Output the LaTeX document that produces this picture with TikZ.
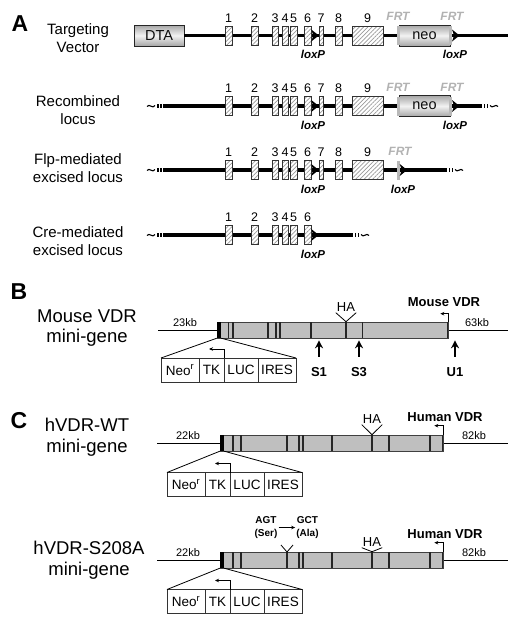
\documentclass[tikz,border=0pt]{standalone}
\usepackage{fontspec}
\setmainfont{Liberation Sans}
\usepackage{tikz}
\usetikzlibrary{positioning, arrows.meta, patterns.meta, calc}

\begin{document}
\begin{tikzpicture}[
    x=1pt, y=-1pt,
    panel/.style={font=\fontsize{23}{23}\selectfont\bfseries},
    rowlabel/.style={align=center, font=\fontsize{15}{18.5}\selectfont},
    genelabel/.style={align=center, font=\fontsize{18.5}{20.5}\selectfont},
    num/.style={font=\fontsize{12.5}{12.5}\selectfont},
    frt/.style={font=\fontsize{12}{12}\selectfont\bfseries\itshape, text=gray!60},
    lox/.style={font=\fontsize{11.5}{11.5}\selectfont\bfseries\itshape},
    exon/.style={
        rectangle, draw=gray!40!black, line width=0.6pt,
        preaction={fill=white},
        pattern={Lines[angle=45, distance=3pt, line width=0.7pt]},
        pattern color=gray!80,
        minimum height=19pt, inner sep=0pt
    },
    cassette/.style={
        rectangle, draw=gray!30!black, line width=0.7pt,
        top color=gray!70, bottom color=gray!70, middle color=gray!10,
        minimum height=21pt, inner sep=0pt, text=gray!10!black,
        font=\fontsize{14.5}{14.5}\selectfont
    },
    frtbar/.style={rectangle, fill=gray!55, minimum width=3pt, minimum height=19pt, inner sep=0pt},
    dna/.style={line width=3.5pt},
    thinline/.style={line width=0.8pt},
    gene/.style={rectangle, draw=black!75, fill=gray!50, line width=0.6pt, minimum height=16pt, inner sep=0pt},
    block/.style={rectangle, fill=black, minimum width=4pt, minimum height=16pt, inner sep=0pt},
    bar/.style={line width=1.6pt, black!85},
    kb/.style={font=\fontsize{11}{11}\selectfont},
    ha/.style={font=\fontsize{13}{13}\selectfont, inner sep=1pt},
    vdr/.style={font=\fontsize{13}{13}\selectfont\bfseries},
    site/.style={font=\fontsize{13}{13}\selectfont\bfseries},
    cell/.style={rectangle, draw=black!80, line width=0.6pt, minimum height=24pt,
        inner sep=0pt, outer sep=0pt, font=\fontsize{13.5}{13.5}\selectfont},
    mut/.style={align=center, inner sep=1pt, font=\fontsize{10}{12.5}\selectfont\bfseries},
    tss/.style={-{Stealth[length=4pt, width=3.5pt]}, line width=0.7pt},
    uparrow/.style={-{Stealth[length=8pt, width=8pt]}, line width=1.8pt, shorten >=2pt, shorten <=7pt},
    brk/.pic={
        \draw[line width=1.1pt] (-16,0.5) .. controls (-13.5,-3) and (-10.5,3.5) .. (-8,-0.5);
        \fill (-6,-2.2) rectangle (-4.5,2.2);
        \fill (-3,-2.2) rectangle (-1.5,2.2);
    }
]
\useasboundingbox (0,0) rectangle (518,624);

% A: targeting vector and loci
\node[panel] (lblA) at (20,23.5) {A};
\node[rowlabel] (tvL) at (78,38) {Targeting\\Vector};
\node[rowlabel] (rlL) at (78,110) {Recombined\\locus};
\node[rowlabel] (feL) at (78,168) {Flp-mediated\\excised locus};
\node[rowlabel] (ceL) at (78,241) {Cre-mediated\\excised locus};

\node[cassette, minimum width=50pt] (dta) at (159,35.5) {DTA};
\coordinate (tv-E) at (508,35.5);
\draw[dna] (dta.east) -- (tv-E);
\foreach \row/\yy/\xe in {rl/106/482, fe/170/447, ce/235/353} {
    \coordinate (\row-W) at (163,\yy);
    \coordinate (\row-E) at (\xe,\yy);
    \draw[dna] (\row-W) -- (\row-E);
    \pic at (\row-W) {brk};
    \pic[xscale=-1] at (\row-E) {brk};
}

% exons 1-9, loxP after exon 6
\foreach \row/\yy/\nmax in {tv/35.5/9, rl/106/9, fe/170/9, ce/235/6} {
    \foreach \n/\x/\w in {1/228.5/7, 2/254.5/7, 3/275/6, 4/285/6, 5/293.5/7,
                          6/307.5/7, 7/321/4, 8/338.5/7, 9/367.5/31} {
        \ifnum\n>\nmax\relax\else
            \node[exon, minimum width=\w pt, label={[num]above:\n}] (\row-\n) at (\x,\yy) {};
        \fi
    }
    \fill (\row-6.east) ++(0,-6) -- ++(7.5,6) -- ++(-7.5,6) -- ++(2,-6) -- cycle;
    \node[lox] (\row-lx) at (313,\yy+19) {loxP};
}

% neo flanked by FRT, second loxP
\foreach \row/\yy in {tv/35.5, rl/106} {
    \node[cassette, minimum width=51pt] (\row-neo) at (424.5,\yy) {neo};
    \node[frtbar] (\row-f1) at (\row-neo.west) {};
    \node[frtbar] (\row-f2) at (\row-neo.east) {};
    \fill (\row-f2.east) ++(0,-6) -- ++(7.5,6) -- ++(-7.5,6) -- ++(2,-6) -- cycle;
    \node[frt] (\row-ft1) at (398,\yy-19) {FRT};
    \node[frt] (\row-ft2) at (452,\yy-19) {FRT};
    \node[lox] (\row-lx2) at (455,\yy+19) {loxP};
}
\node[frtbar] (fe-f1) at (398,170) {};
\fill (fe-f1.east) ++(0,-6) -- ++(7.5,6) -- ++(-7.5,6) -- ++(2,-6) -- cycle;
\node[frt] (fe-ft1) at (400,151) {FRT};
\node[lox] (fe-lx2) at (403,189) {loxP};

% B: mouse VDR mini-gene
\node[panel] (lblB) at (19,291.5) {B};
\node[genelabel] (mgB) at (87,328) {Mouse VDR\\mini-gene};
\coordinate (B-W) at (158,330);
\coordinate (B-E) at (508,330);
\draw[thinline] (B-W) -- (B-E);
\node[gene, minimum width=231pt] (geneB) at (332.5,330) {};
\node[block] (blkB) at (219,330) {};
\foreach \x in {228.3, 232.7, 267.7, 276, 280, 311, 345.7, 362.3, 447.5}
    \draw[bar] (\x,322) -- (\x,338);
\node[kb] (kbB1) at (185,323) {23kb};
\node[kb] (kbB2) at (477,323) {63kb};
\node[ha] (haB) at (346,307) {HA};
\draw[thinline] (haB.south west) -- (haB.south |- geneB.north) -- (haB.south east);
\draw[tss] (geneB.north east) -- ++(0,-8) -- ++(-8,0);
\node[vdr] (vdrB) at (444,302) {Mouse VDR};
\foreach \s/\x in {S1/319, S3/359, U1/455} {
    \node[site] (\s) at (\x,372) {\s};
    \draw[uparrow] (\s.north) -- (\s.north |- geneB.south);
}
\node[cell, minimum width=38pt] (neoB) at (180,370) {Neo\textsuperscript{r}};
\node[cell, minimum width=25pt, right=0pt of neoB] (tkB) {TK};
\node[cell, minimum width=34pt, right=0pt of tkB] (lucB) {LUC};
\node[cell, minimum width=38pt, right=0pt of lucB] (iresB) {IRES};
\draw[thinline] (blkB.south west) -- (neoB.north west);
\draw[thinline] (blkB.south east) -- (iresB.north east);
\draw[tss] (tkB.north east) -- ++(0,-9) -- ++(-15,0);

% C: human VDR mini-genes
\node[panel] (lblC) at (19,420.5) {C};
\node[genelabel] (mgC) at (87,437) {hVDR-WT\\mini-gene};
\node[genelabel] (mgS) at (89,560) {hVDR-S208A\\mini-gene};
\foreach \p/\yy/\hy in {C/443/419, S/560/542} {
    \coordinate (\p-W) at (157,\yy);
    \coordinate (\p-E) at (508,\yy);
    \draw[thinline] (\p-W) -- (\p-E);
    \node[gene, minimum width=223pt] (gene\p) at (331.5,\yy) {};
    \node[block] (blk\p) at (222,\yy) {};
    \foreach \x in {233, 241, 287, 299, 303, 332, 372, 389, 430, 442.5}
        \draw[bar] (\x,\yy-8) -- (\x,\yy+8);
    \node[kb] (kb\p1) at (188,\yy-7) {22kb};
    \node[kb] (kb\p2) at (474,\yy-7) {82kb};
    \node[ha] (ha\p) at (372,\hy) {HA};
    \draw[thinline] (ha\p.south west) -- (ha\p.south |- gene\p.north) -- (ha\p.south east);
    \draw[tss] (gene\p.north east) -- ++(0,-9) -- ++(-9,0);
    \node[vdr] (vdr\p) at (445,\yy-26) {Human VDR};
    \node[cell, minimum width=38pt] (neo\p) at (186,\yy+41.5) {Neo\textsuperscript{r}};
    \node[cell, minimum width=25pt, right=0pt of neo\p] (tk\p) {TK};
    \node[cell, minimum width=34pt, right=0pt of tk\p] (luc\p) {LUC};
    \node[cell, minimum width=38pt, right=0pt of luc\p] (ires\p) {IRES};
    \draw[thinline] (blk\p.south west) -- (neo\p.north west);
    \draw[thinline] (blk\p.south east) -- (ires\p.north east);
    \draw[tss] (tk\p.north east) -- ++(0,-9) -- ++(-15,0);
}

% S208A point mutation
\node[mut] (agt) at (266,527.5) {AGT\\(Ser)};
\node[mut] (gct) at (307.5,527.5) {GCT\\(Ala)};
\draw[tss] (agt) -- (gct);
\coordinate (mutS) at (287,552);
\draw[thinline] ($(mutS)+(-6,-7)$) -- (mutS) -- ($(mutS)+(6,-7)$);

\end{tikzpicture}
\end{document}
